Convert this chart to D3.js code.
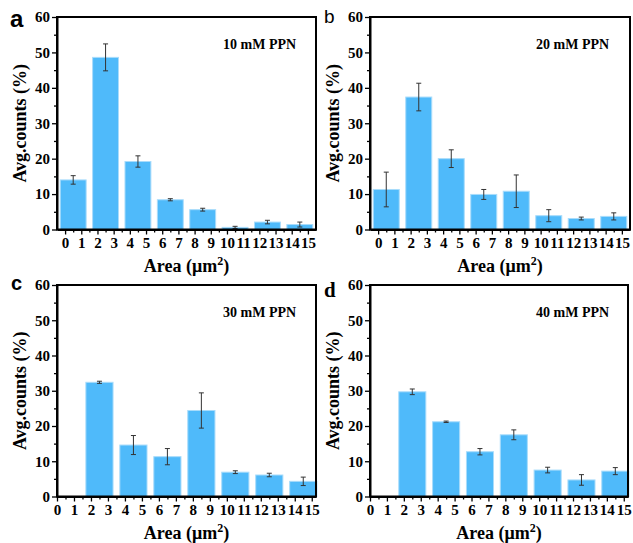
<!DOCTYPE html>
<html>
<head>
<meta charset="utf-8">
<script src="https://cdn.jsdelivr.net/npm/d3@7.9.0/dist/d3.min.js"></script>
<style>
  html, body { margin: 0; padding: 0; background: #fff; }
  svg { display: block; }
</style>
</head>
<body>
<svg id="chart" width="633" height="543"></svg>
<script>
/* ---- data ---- */
const binStarts   = [0, 2, 4, 6, 8, 10, 12, 14];
const xTickLabels = ['0','1','2','3','4','5','6','7','8','9','10','11','12','13','14','15'];
const yTickValues = [0, 10, 20, 30, 40, 50, 60];

const mean10 = [14.0, 48.6, 19.2, 8.4, 5.6, 0.6, 2.1, 1.4];
const err10  = [1.2, 3.8, 1.6, 0.3, 0.4, 0.3, 0.5, 0.7];

const mean20 = [11.3, 37.4, 20.0, 9.9, 10.8, 3.9, 3.1, 3.7];
const err20  = [4.9, 3.9, 2.5, 1.4, 4.6, 1.7, 0.4, 1.0];

const mean30 = [0, 32.4, 14.6, 11.3, 24.4, 6.9, 6.1, 4.3];
const err30  = [0, 0.3, 2.7, 2.3, 5.0, 0.4, 0.5, 1.2];

const mean40 = [0, 29.7, 21.2, 12.7, 17.5, 7.5, 4.7, 7.2];
const err40  = [0, 0.8, 0.2, 0.9, 1.4, 0.8, 1.5, 1.0];

const SERIF = 'Liberation Serif';

const panels = [
  { letter: 'a', letterFont: 'Liberation Sans', letterSize: 24, lx: 10, ly: 27,
    label: '10 mM PPN', mean: mean10, err: err10,
    left: 57, right: 316, top: 17, bottom: 229.5, xDomain: [-0.5, 15.5] },
  { letter: 'b', letterFont: 'Liberation Sans', letterSize: 19, lx: 324, ly: 23, letterWeight: 'normal',
    label: '20 mM PPN', mean: mean20, err: err20,
    left: 370, right: 630, top: 17, bottom: 229.5, xDomain: [-0.5, 15.5] },
  { letter: 'c', letterFont: 'Liberation Sans', letterSize: 20, lx: 11, ly: 290,
    label: '30 mM PPN', mean: mean30, err: err30,
    left: 57, right: 316, top: 285, bottom: 496.5, xDomain: [0, 15.25] },
  { letter: 'd', letterFont: SERIF, letterSize: 21, lx: 324, ly: 297,
    label: '40 mM PPN', mean: mean40, err: err40,
    left: 370, right: 628, top: 285, bottom: 496.5, xDomain: [0, 15.25] }
];

const barColor  = '#4fbafa';
const barEdge   = '#a9dcfb';
const errColor  = '#333';
const barWidth  = 1.6;   // in x units (each bin spans 0..1 of a pair)

const svg = d3.select('#chart');
svg.append('rect').attr('width', 633).attr('height', 543).attr('fill', '#fff');

panels.forEach(drawPanel);

function drawPanel(p) {
  const x = d3.scaleLinear().domain(p.xDomain).range([p.left, p.right]);
  const y = d3.scaleLinear().domain([0, 60]).range([p.bottom, p.top]);
  const g = svg.append('g');

  /* bars, centred between the two labels of their bin */
  const rows = binStarts.map((s, i) => ({ c: s + 0.5, v: p.mean[i], e: p.err[i] }));
  g.selectAll('rect.bar')
    .data(rows.filter(d => d.v > 0))
    .enter().append('rect')
      .attr('class', 'bar')
      .attr('x', d => x(d.c - barWidth / 2))
      .attr('width', d => x(d.c + barWidth / 2) - x(d.c - barWidth / 2))
      .attr('y', d => y(d.v))
      .attr('height', d => y(0) - y(d.v))
      .attr('fill', barColor)
      .attr('stroke', barEdge)
      .attr('stroke-width', 1);

  /* error bars */
  const eb = g.selectAll('g.err')
    .data(rows.filter(d => d.e > 0))
    .enter().append('g')
      .attr('stroke', errColor)
      .attr('stroke-width', 1);
  eb.append('line')
    .attr('x1', d => x(d.c)).attr('x2', d => x(d.c))
    .attr('y1', d => y(d.v - d.e)).attr('y2', d => y(d.v + d.e));
  [1, -1].forEach(sgn => {
    eb.append('line')
      .attr('x1', d => x(d.c) - 2.5).attr('x2', d => x(d.c) + 2.5)
      .attr('y1', d => y(d.v + sgn * d.e)).attr('y2', d => y(d.v + sgn * d.e));
  });

  /* frame */
  g.append('rect')
    .attr('x', p.left).attr('y', p.top)
    .attr('width', p.right - p.left).attr('height', p.bottom - p.top)
    .attr('fill', 'none').attr('stroke', '#000').attr('stroke-width', 2);

  /* y axis */
  const yMinor = g.append('g').attr('transform', `translate(${p.left},0)`)
    .call(d3.axisLeft(y).tickValues([5, 15, 25, 35, 45, 55]).tickSize(3).tickFormat(''));
  yMinor.select('.domain').remove();
  const yAx = g.append('g').attr('transform', `translate(${p.left},0)`)
    .call(d3.axisLeft(y).tickValues(yTickValues).tickSize(5).tickPadding(2).tickSizeOuter(0));
  yAx.select('.domain').attr('stroke-width', 2);

  /* x axis */
  const halfTicks = xTickLabels.map((_, i) => i + 0.5).filter(v => v < p.xDomain[1]);
  const xMinor = g.append('g').attr('transform', `translate(0,${p.bottom})`)
    .call(d3.axisBottom(x).tickValues(halfTicks).tickSize(3).tickFormat(''));
  xMinor.select('.domain').remove();
  const xAx = g.append('g').attr('transform', `translate(0,${p.bottom})`)
    .call(d3.axisBottom(x).tickValues(xTickLabels.map((_, i) => i))
      .tickFormat(i => xTickLabels[i]).tickSize(5).tickPadding(3).tickSizeOuter(0));
  xAx.select('.domain').attr('stroke-width', 2);

  g.selectAll('.tick line').attr('stroke', '#000').attr('stroke-width', 1.3);
  g.selectAll('.tick text')
    .attr('font-family', SERIF).attr('font-weight', 'bold')
    .attr('font-size', 15).attr('fill', '#000');

  /* axis titles */
  const cx = (p.left + p.right) / 2;
  const xt = g.append('text')
    .attr('x', cx).attr('y', p.bottom + 42)
    .attr('text-anchor', 'middle')
    .attr('font-family', SERIF)
    .attr('font-weight', 'bold').attr('font-size', 18);
  xt.append('tspan').text('Area (μm');
  xt.append('tspan').text('2').attr('font-size', 12).attr('dy', -7);
  xt.append('tspan').text(')').attr('dy', 7);

  g.append('text')
    .attr('transform', `translate(${p.left - 31},${(p.top + p.bottom) / 2}) rotate(-90)`)
    .attr('text-anchor', 'middle')
    .attr('font-family', SERIF)
    .attr('font-weight', 'bold').attr('font-size', 18)
    .text('Avg.counts (%)');

  /* annotation + panel letter */
  g.append('text')
    .attr('x', p.left + 166).attr('y', p.top + 31.5)
    .attr('font-family', SERIF)
    .attr('font-weight', 'bold').attr('font-size', 14)
    .text(p.label);

  g.append('text')
    .attr('x', p.lx).attr('y', p.ly)
    .attr('font-family', p.letterFont)
    .attr('font-weight', p.letterWeight || 'bold')
    .attr('font-size', p.letterSize)
    .text(p.letter);
}
</script>
</body>
</html>
